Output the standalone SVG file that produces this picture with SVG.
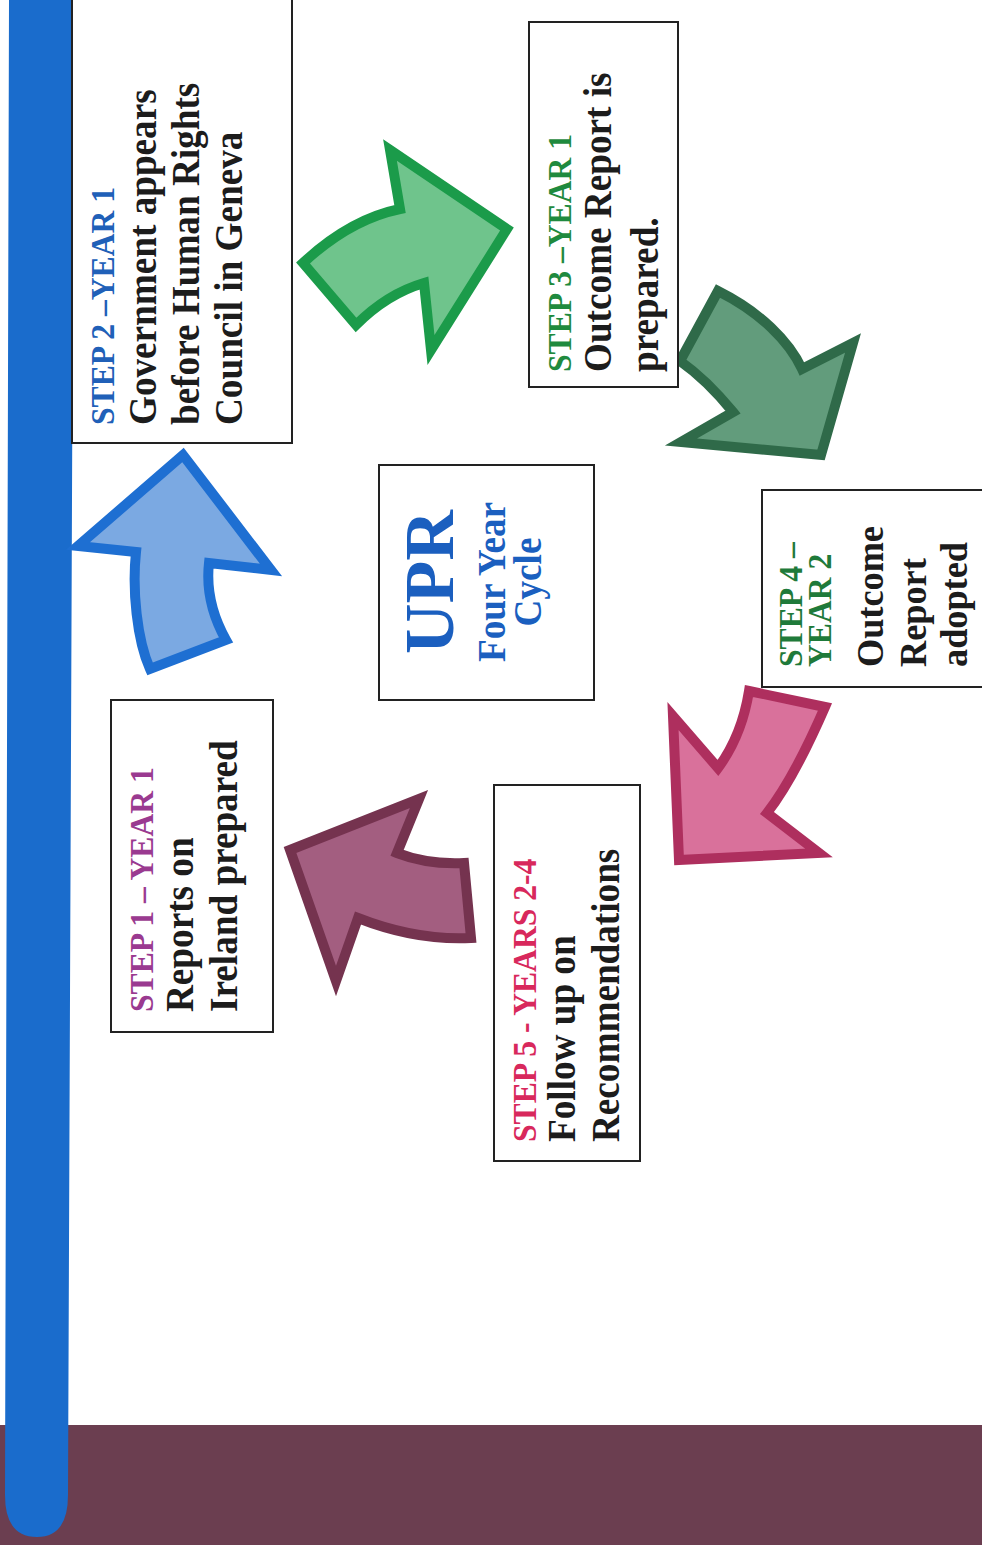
<svg xmlns="http://www.w3.org/2000/svg" width="982" height="1545" viewBox="0 0 982 1545">
<style>
.box{fill:#fff;stroke:#222;stroke-width:2}
.t{font-family:"Liberation Serif","Times New Roman",serif;font-weight:bold;fill:#1c1c1c}
.b{font-size:40px}
.s{font-size:34px}
.arrow{stroke-width:10;stroke-linejoin:miter}
</style>
<rect x="0" y="0" width="982" height="1545" fill="#fff"/>
<rect x="0" y="1425" width="982" height="120" fill="#6b3e50"/>
<path d="M9,0 L74,0 L68,1495 Q68,1537 37,1537 Q5,1537 5,1495 Z" fill="#1a6ccc"/>

<g id="connectors">
<path class="arrow" d="M183,455 L271,570 L209,563 C206,590 212,615 226,640 L150,669 C137,640 132,590 136,552 L78,546 Z" fill="#7ba9e2" stroke="#1e6fd2"/>
<path class="arrow" d="M390,150 L507,229 L431,350 L424,283 C400,290 376,305 356,325 L303,263 C332,236 366,216 400,209 Z" fill="#6fc48c" stroke="#1b9b4a"/>
<path class="arrow" d="M718,291 C760,312 789,341 802,369 L853,343 L821,455 L681,442 L733,412 C715,390 697,373 680,361 Z" fill="#629c7c" stroke="#2f6a49"/>
<path class="arrow" d="M749,691 L825,707 C808,746 789,785 767,813 L819,853 L679,860 L673,716 L718,768 C735,745 745,716 749,691 Z" fill="#d9719b" stroke="#ae2f5e"/>
<path class="arrow" d="M419,799 L397,853 C420,862 441,864 464,863 L471,938 C430,940 391,931 358,918 L336,981 L290,850 Z" fill="#a35e80" stroke="#75334f"/>
</g>

<g id="step2">
<rect class="box" x="72" y="-3" width="220" height="446"/>
<text class="t s" style="fill:#2060b8" transform="translate(114,425) rotate(-90) scale(0.93,1)">STEP 2 –YEAR 1</text>
<text class="t b" transform="translate(156,425) rotate(-90) scale(0.93,1)">Government appears</text>
<text class="t b" transform="translate(199,425) rotate(-90) scale(0.93,1)">before Human Rights</text>
<text class="t b" transform="translate(242,425) rotate(-90) scale(0.93,1)">Council in Geneva</text>
</g>

<g id="step3">
<rect class="box" x="529" y="22" width="149" height="365"/>
<text class="t s" style="fill:#1f8a3e" transform="translate(571,372) rotate(-90) scale(0.93,1)">STEP 3 –YEAR 1</text>
<text class="t b" transform="translate(611,372) rotate(-90) scale(0.93,1)">Outcome Report is</text>
<text class="t b" transform="translate(658,372) rotate(-90) scale(0.93,1)">prepared.</text>
</g>

<g id="step4">
<rect class="box" x="762" y="490" width="226" height="197"/>
<text class="t s" style="fill:#1f7a3a" transform="translate(802,667) rotate(-90) scale(0.93,1)">STEP 4 –</text>
<text class="t s" style="fill:#1f7a3a" transform="translate(831,667) rotate(-90) scale(0.93,1)">YEAR 2</text>
<text class="t" font-size="39" transform="translate(883,667) rotate(-90) scale(0.93,1)">Outcome</text>
<text class="t" font-size="39" transform="translate(926,667) rotate(-90) scale(0.93,1)">Report</text>
<text class="t" font-size="39" transform="translate(967,667) rotate(-90) scale(0.93,1)">adopted</text>
</g>

<g id="upr">
<rect class="box" x="379" y="465" width="215" height="235"/>
<text class="t" font-size="70" text-anchor="middle" style="fill:#1b5fbf" transform="translate(453,582) rotate(-90)">UPR</text>
<text class="t" font-size="40" text-anchor="middle" style="fill:#1b5fbf" transform="translate(505,582) rotate(-90) scale(0.93,1)">Four Year</text>
<text class="t" font-size="40" text-anchor="middle" style="fill:#1b5fbf" transform="translate(541,582) rotate(-90) scale(0.93,1)">Cycle</text>
</g>

<g id="step5">
<rect class="box" x="494" y="785" width="146" height="376"/>
<text class="t s" style="fill:#d8285c" transform="translate(536,1142) rotate(-90) scale(0.93,1)">STEP 5 - YEARS 2-4</text>
<text class="t b" transform="translate(575,1142) rotate(-90) scale(0.93,1)">Follow up on</text>
<text class="t b" transform="translate(619,1142) rotate(-90) scale(0.93,1)">Recommendations</text>
</g>

<g id="step1">
<rect class="box" x="111" y="700" width="162" height="332"/>
<text class="t s" style="fill:#9a3a90" transform="translate(153,1012) rotate(-90) scale(0.93,1)">STEP 1 – YEAR 1</text>
<text class="t b" transform="translate(193,1012) rotate(-90) scale(0.93,1)">Reports on</text>
<text class="t b" transform="translate(237,1012) rotate(-90) scale(0.93,1)">Ireland prepared</text>
</g>
</svg>
